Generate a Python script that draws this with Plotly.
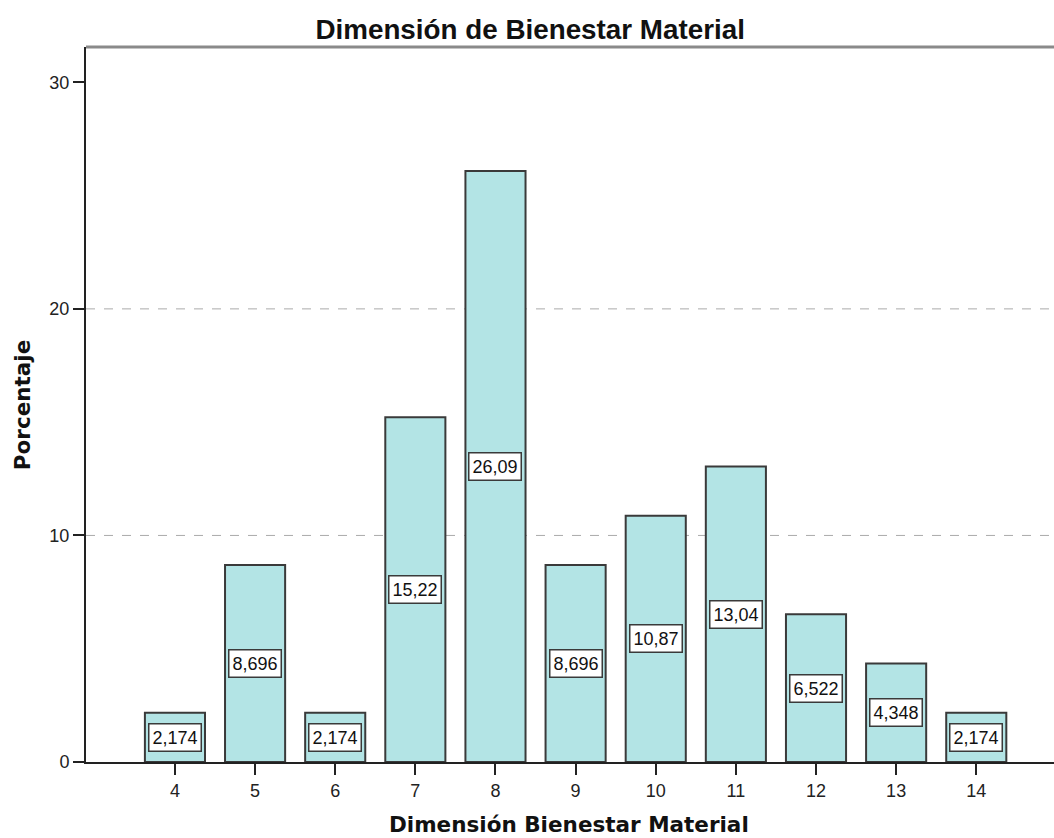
import plotly.graph_objects as go

categories = [4, 5, 6, 7, 8, 9, 10, 11, 12, 13, 14]
percentages = [2.174, 8.696, 2.174, 15.22, 26.09, 8.696, 10.87, 13.04, 6.522, 4.348, 2.174]
value_labels = ["2,174", "8,696", "2,174", "15,22", "26,09", "8,696", "10,87", "13,04", "6,522", "4,348", "2,174"]
y_ticks = [0, 10, 20, 30]
grid_levels = [10, 20]

BAR_FILL = "#b3e4e5"
EDGE = "#3a3a3a"
ARIAL = "Liberation Sans, Arial, sans-serif"
BOLD_AXIS = "DejaVu Sans, Verdana, sans-serif"

fig = go.Figure()
fig.add_trace(go.Bar(
    x=categories, y=percentages, width=0.75,
    marker=dict(color=BAR_FILL, line=dict(color=EDGE, width=2)),
    hoverinfo="x+y", showlegend=False,
))

for g in grid_levels:
    fig.add_hline(y=g, line_dash="dash", line_color="#aaaaaa", line_width=1, layer="below")

for x, v, lab in zip(categories, percentages, value_labels):
    fig.add_annotation(
        x=x, y=v / 2, text=lab, showarrow=False,
        font=dict(family=ARIAL, size=18, color="#111111"),
        bgcolor="white", bordercolor=EDGE, borderwidth=1.5, borderpad=3,
    )

# axis titles
fig.add_annotation(xref="paper", yref="paper", x=0.499, y=-0.087, xanchor="center", yanchor="middle",
                   text="<b>Dimensión Bienestar Material</b>", showarrow=False,
                   font=dict(family=BOLD_AXIS, size=21.5, color="#111111"))
fig.add_annotation(xref="paper", yref="paper", x=-0.0654, y=0.5, xanchor="center", yanchor="middle",
                   text="<b>Porcentaje</b>", showarrow=False, textangle=-90,
                   font=dict(family=BOLD_AXIS, size=21.5, color="#111111"))

# top frame line
fig.add_shape(type="line", xref="paper", yref="paper", x0=0, x1=1, y0=1, y1=1,
              line=dict(color="#8a8a8a", width=3))

fig.update_layout(
    width=1054, height=838,
    margin=dict(l=86, r=0, t=47, b=76),
    plot_bgcolor="white", paper_bgcolor="white",
    font=dict(family=ARIAL, size=18, color="#222222"),
    title=dict(text="<b>Dimensión de Bienestar Material</b>", x=0.503, xanchor="center",
               y=0.965, yanchor="middle", font=dict(family=ARIAL, size=27.8, color="#111111")),
    xaxis=dict(
        range=[2.89, 14.97], tickvals=categories, ticktext=[str(c) for c in categories],
        showgrid=False, zeroline=False, showline=True, linecolor="#222222", linewidth=2,
        ticks="outside", ticklen=11, tickwidth=2, tickcolor="#222222",
    ),
    yaxis=dict(
        range=[0, 31.56], tickvals=y_ticks, showgrid=False, zeroline=False,
        showline=True, linecolor="#222222", linewidth=2,
        ticks="outside", ticklen=11, tickwidth=2, tickcolor="#222222",
    ),
)

fig.write_html("out.html", config={"displayModeBar": False},
               post_script="document.body.style.margin='0';")
